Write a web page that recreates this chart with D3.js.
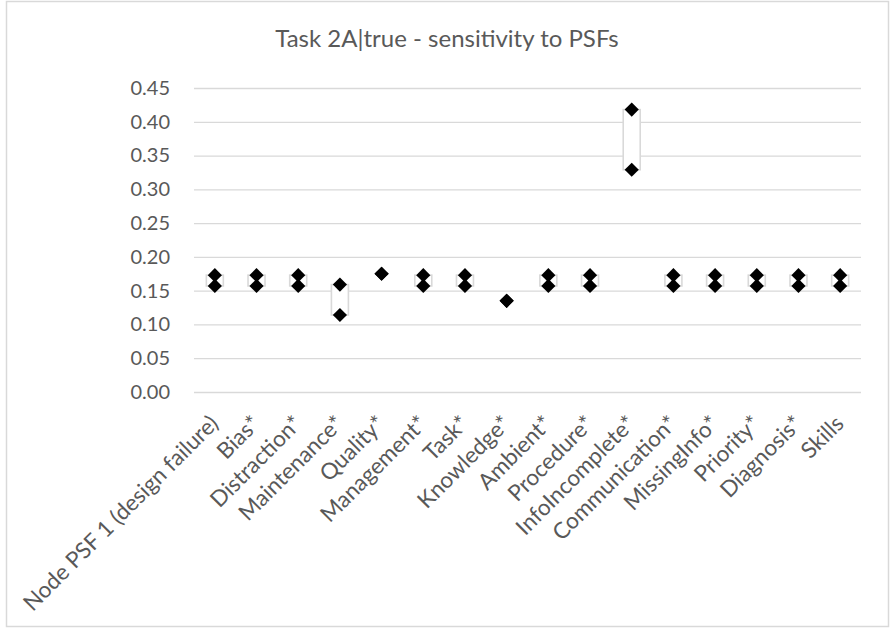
<!DOCTYPE html>
<html>
<head>
<meta charset="utf-8">
<script src="https://cdn.jsdelivr.net/npm/d3@7"></script>
<style>
  html, body { margin: 0; padding: 0; background: #ffffff; }
  svg { display: block; font-family: Lato, "Open Sans", sans-serif; }
</style>
</head>
<body>
<svg id="chart" width="892" height="630"></svg>
<script>
// Performance shaping factors on the x axis
const categories = [
  "Node PSF 1 (design failure)", "Bias*", "Distraction*", "Maintenance*",
  "Quality*", "Management*", "Task*", "Knowledge*", "Ambient*", "Procedure*",
  "InfoIncomplete*", "Communication*", "MissingInfo*", "Priority*",
  "Diagnosis*", "Skills"
];

// Upper and lower sensitivity value for each PSF
const upperValues = [0.173, 0.173, 0.173, 0.159, 0.175, 0.173, 0.173, 0.135,
                     0.173, 0.173, 0.418, 0.173, 0.173, 0.173, 0.173, 0.173];
const lowerValues = [0.157, 0.157, 0.157, 0.114, 0.175, 0.157, 0.157, 0.135,
                     0.157, 0.157, 0.329, 0.157, 0.157, 0.157, 0.157, 0.157];

// Y axis ticks
const yTicks = [0, 0.05, 0.10, 0.15, 0.20, 0.25, 0.30, 0.35, 0.40, 0.45];

const chartTitle = "Task 2A|true - sensitivity to PSFs";

const rows = categories.map((c, i) => ({ name: c, hi: upperValues[i], lo: lowerValues[i] }));

const svg = d3.select("#chart");
const textColor = "#595959";
const gridColor = "#d9d9d9";

// Outer chart frame
svg.append("rect")
  .attr("x", 6.5).attr("y", 1.5)
  .attr("width", 882).attr("height", 625)
  .attr("fill", "#ffffff")
  .attr("stroke", gridColor)
  .attr("stroke-width", 1.5);

const plot = { left: 194, right: 861, top: 88, bottom: 392 };

const x = d3.scaleBand()
  .domain(categories)
  .range([plot.left, plot.right])
  .paddingInner(0).paddingOuter(0);

const y = d3.scaleLinear()
  .domain([0, 0.45])
  .range([plot.bottom, plot.top]);

// Title
svg.append("text")
  .attr("x", 447).attr("y", 47)
  .attr("text-anchor", "middle")
  .attr("fill", textColor)
  .attr("font-size", 24)
  .text(chartTitle);

// Horizontal gridlines + y labels via the axis generator
const yAxis = d3.axisLeft(y)
  .tickValues(yTicks)
  .tickFormat(d3.format(".2f"))
  .tickSize(-(plot.right - plot.left))
  .tickPadding(24);

const gy = svg.append("g")
  .attr("transform", `translate(${plot.left},0)`)
  .call(yAxis);
gy.select(".domain").remove();
gy.selectAll(".tick line")
  .attr("stroke", gridColor)
  .attr("stroke-width", 1.3);
gy.selectAll(".tick text")
  .attr("fill", textColor)
  .attr("font-size", 20)
  .attr("font-family", "Lato, 'Open Sans', sans-serif");

// Category labels, rotated
const xAxis = d3.axisBottom(x).tickSize(0).tickPadding(0);
const gx = svg.append("g")
  .attr("transform", `translate(0,${plot.bottom})`)
  .call(xAxis);
gx.select(".domain").remove();
gx.selectAll(".tick text")
  .attr("fill", textColor)
  .attr("font-size", 22.5)
  .attr("font-family", "Lato, 'Open Sans', sans-serif")
  .attr("text-anchor", "end")
  .attr("dy", 0)
  .attr("y", 0)
  .attr("transform", "translate(5,33) rotate(-45)");

// Up/down bars between the two values
const barW = 17;
svg.append("g")
  .selectAll("rect")
  .data(rows.filter(d => d.hi !== d.lo))
  .join("rect")
  .attr("x", d => x(d.name) + x.bandwidth() / 2 - barW / 2)
  .attr("y", d => y(Math.max(d.hi, d.lo)))
  .attr("width", barW)
  .attr("height", d => Math.abs(y(d.lo) - y(d.hi)))
  .attr("fill", "#ffffff")
  .attr("stroke", gridColor)
  .attr("stroke-width", 1.6);

// Diamond markers
const diamond = d3.symbol().type(d3.symbolDiamond2).size(128);
const markers = svg.append("g");
[lowerValues, upperValues].forEach(series => {
  markers.append("g")
    .selectAll("path")
    .data(series)
    .join("path")
    .attr("transform", (v, i) => `translate(${x(categories[i]) + x.bandwidth() / 2},${y(v)})`)
    .attr("d", diamond)
    .attr("fill", "#000000");
});
</script>
</body>
</html>
